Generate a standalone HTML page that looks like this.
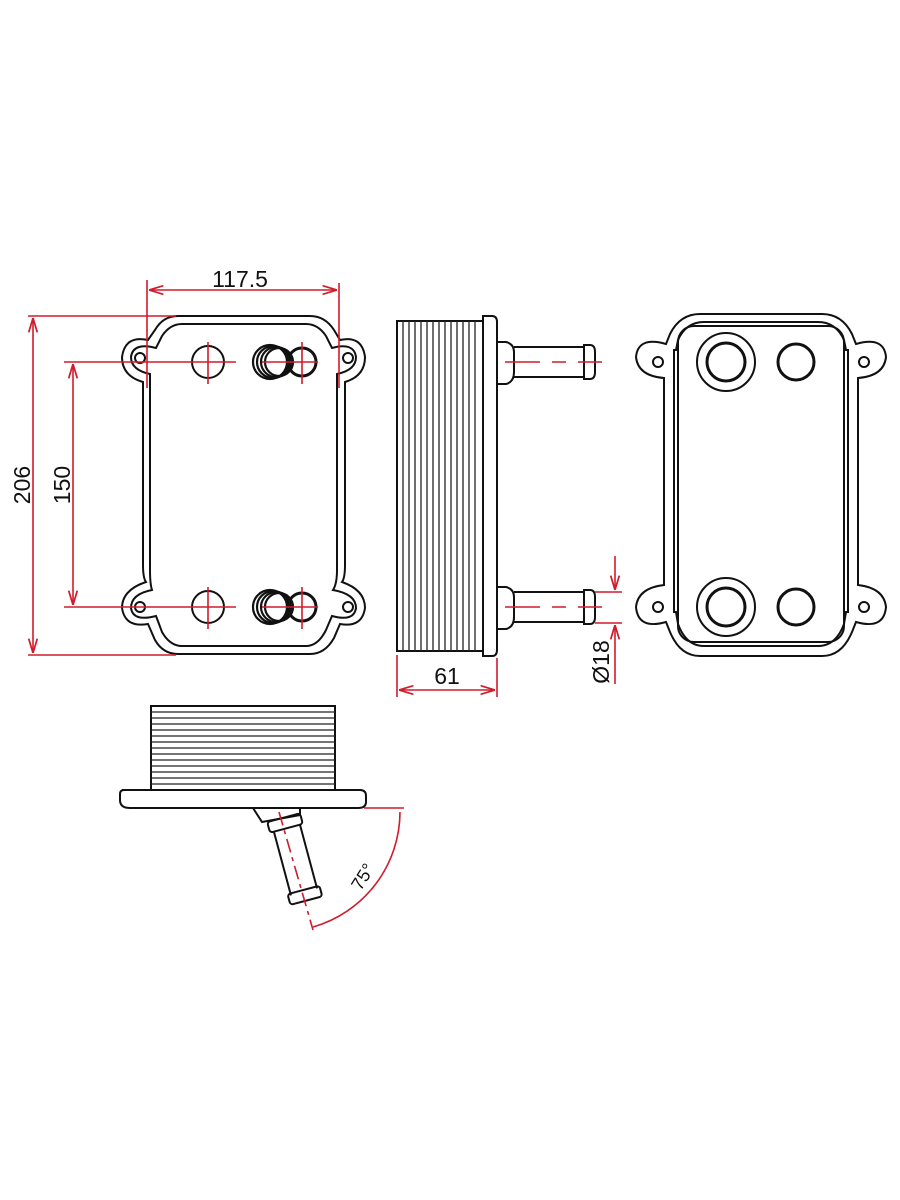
<!DOCTYPE html>
<html><head><meta charset="utf-8"><style>html,body{margin:0;padding:0;background:#fff}svg{display:block}</style></head><body>
<svg width="900" height="1200" viewBox="0 0 900 1200" xmlns="http://www.w3.org/2000/svg" font-family="Liberation Sans, sans-serif">
<defs>
<marker id="a" viewBox="0 0 10 10" refX="10" refY="5" markerWidth="9" markerHeight="9" orient="auto-start-reverse"><path d="M0,2 L10,5 L0,8" fill="none" stroke="#d01c2c" stroke-width="1.2"/></marker>
</defs>
<g fill="none" stroke="#111" stroke-width="2">
<!-- LEFT VIEW -->
<path d="M178,316 L310,316 Q325,316 334,330 L340,340 Q362,335 365,357 Q365,376 345,382 L345,565 Q345,578 342,582 Q365,590 365,608 Q362,628 340,624 L334,638 Q325,654 310,654 L178,654 Q163,654 155,640 L148,624 Q125,628 122,608 Q122,590 146,582 Q143,578 143,565 L143,382 Q122,376 122,357 Q125,335 148,340 L155,330 Q163,316 178,316 Z"/>
<path d="M182,324 L306,324 Q318,324 326,336 L332,348 Q354,342 356,357 Q356,370 337,374 L337,570 Q337,584 333,590 Q356,594 356,608 Q354,622 332,616 L326,630 Q318,646 306,646 L182,646 Q170,646 162,632 L156,616 Q133,622 131,608 Q131,594 152,590 Q150,584 150,570 L150,374 Q131,370 131,357 Q133,342 156,348 L162,336 Q170,324 182,324 Z"/>
<circle cx="140" cy="358" r="5"/><circle cx="348" cy="358" r="5"/>
<circle cx="140" cy="607" r="5"/><circle cx="348" cy="607" r="5"/>
<circle cx="208" cy="362" r="16"/><circle cx="208" cy="607" r="16"/>
<g stroke-width="2.2"><circle cx="270" cy="362" r="17"/><circle cx="273" cy="362" r="16"/><circle cx="276" cy="362" r="15"/><circle cx="279" cy="362" r="14"/>
<circle cx="270" cy="607" r="17"/><circle cx="273" cy="607" r="16"/><circle cx="276" cy="607" r="15"/><circle cx="279" cy="607" r="14"/></g>
<circle cx="302" cy="362" r="14" stroke-width="3"/><circle cx="302" cy="607" r="14" stroke-width="3"/>
<!-- MIDDLE VIEW -->
<rect x="397" y="321" width="86" height="330"/>
<path d="M483,316 L492,316 Q497,316 497,322 L497,650 Q497,656 492,656 L483,656 Z"/>
<path d="M497,342 L506,342 Q514,344 514,352 L514,372 Q514,382 506,384 L497,384"/>
<path d="M514,347 L584,347 M514,377 L584,377 M584,345 L590,345 Q595,345 595,352 L595,372 Q595,379 590,379 L584,379 Z"/>
<path d="M497,587 L506,587 Q514,589 514,597 L514,617 Q514,627 506,629 L497,629"/>
<path d="M514,592 L584,592 M514,622 L584,622 M584,590 L590,590 Q595,590 595,597 L595,617 Q595,624 590,624 L584,624 Z"/>
<!-- RIGHT VIEW -->
<path d="M700,314 L822,314 Q842,314 852,334 L856,344 Q884,336 886,357 Q884,376 858,378 L858,585 Q884,588 886,607 Q884,630 856,622 L852,632 Q842,656 822,656 L700,656 Q680,656 670,632 L666,622 Q638,630 636,607 Q638,588 664,585 L664,378 Q638,376 636,357 Q638,336 666,344 L670,334 Q680,314 700,314 Z"/>
<path d="M704,322 L818,322 Q836,322 844,340 L846,350 L848,350 L848,612 L846,612 L844,624 Q836,646 818,646 L704,646 Q686,646 678,624 L676,612 L674,612 L674,350 L676,350 L678,340 Q686,322 704,322 Z"/>
<rect x="678" y="326" width="166" height="316" rx="16"/>
<circle cx="658" cy="362" r="5"/><circle cx="864" cy="362" r="5"/><circle cx="658" cy="607" r="5"/><circle cx="864" cy="607" r="5"/>
<circle cx="726" cy="362" r="29"/><circle cx="726" cy="362" r="19" stroke-width="3"/>
<circle cx="796" cy="362" r="18" stroke-width="3"/>
<circle cx="726" cy="607" r="29"/><circle cx="726" cy="607" r="19" stroke-width="3"/>
<circle cx="796" cy="607" r="18" stroke-width="3"/>
<!-- BOTTOM VIEW -->
<rect x="151" y="706" width="184" height="84"/>
<path d="M122,790 L360,790 Q366,790 366,796 L366,802 Q366,808 358,808 L130,808 Q120,808 120,800 L120,794 Q120,790 124,790 Z"/>
<path d="M253,808 L262,822 L300,815 L300,808"/>
<g transform="rotate(-15 281 808)">
<rect x="264" y="818" width="34" height="11" rx="3"/>
<path d="M268,829 L268,895 M295,829 L295,895"/>
<rect x="265" y="893" width="33" height="11" rx="3"/>
</g>
</g>
<!-- fins -->
<g stroke="#222" stroke-width="1.3">
<path d="M403,321V651M409,321V651M415,321V651M421,321V651M427,321V651M433,321V651M439,321V651M445,321V651M451,321V651M457,321V651M463,321V651M469,321V651M475,321V651"/>
<path d="M151,712H335M151,718H335M151,724H335M151,730H335M151,736H335M151,742H335M151,748H335M151,754H335M151,760H335M151,766H335M151,772H335M151,778H335M151,784H335"/>
</g>
<!-- RED -->
<g stroke="#d01c2c" stroke-width="1.6" fill="none">
<path d="M147,280V388M339,283V388"/>
<path d="M149,290H337" marker-start="url(#a)" marker-end="url(#a)"/>
<path d="M28,316H176M28,655H176"/>
<path d="M33,318V653" marker-start="url(#a)" marker-end="url(#a)"/>
<path d="M64,362H236M64,607H236M262,362H318M262,607H318"/>
<path d="M73,364V605" marker-start="url(#a)" marker-end="url(#a)"/>
<path d="M208,342V384M208,587V629M302,342V384M302,587V629"/>
<path d="M397,655V697M497,658V697"/>
<path d="M399,690H495" marker-start="url(#a)" marker-end="url(#a)"/>
<path d="M505,362H540M552,362H566M578,362H602M505,607H540M552,607H566M578,607H602"/>
<path d="M595,592H622M595,623H622"/>
<path d="M615,556V590" marker-end="url(#a)"/>
<path d="M615,684V625" marker-end="url(#a)"/>
<path d="M364,808H404"/>
<path d="M400,812 A120,120 0 0 1 313,927" />
<path d="M279,812L313,930" stroke-dasharray="14,5,4,5"/>
</g>
<g fill="#111" font-size="23">
<text x="240" y="287" text-anchor="middle">117.5</text>
<text transform="translate(30,485) rotate(-90)" text-anchor="middle">206</text>
<text transform="translate(70,485) rotate(-90)" text-anchor="middle">150</text>
<text x="447" y="684" text-anchor="middle">61</text>
<text transform="translate(609,662) rotate(-90)" text-anchor="middle">Ø18</text>
<text transform="translate(368,880) rotate(-58)" text-anchor="middle" font-size="18">75°</text>
</g>
</svg>
</body></html>
